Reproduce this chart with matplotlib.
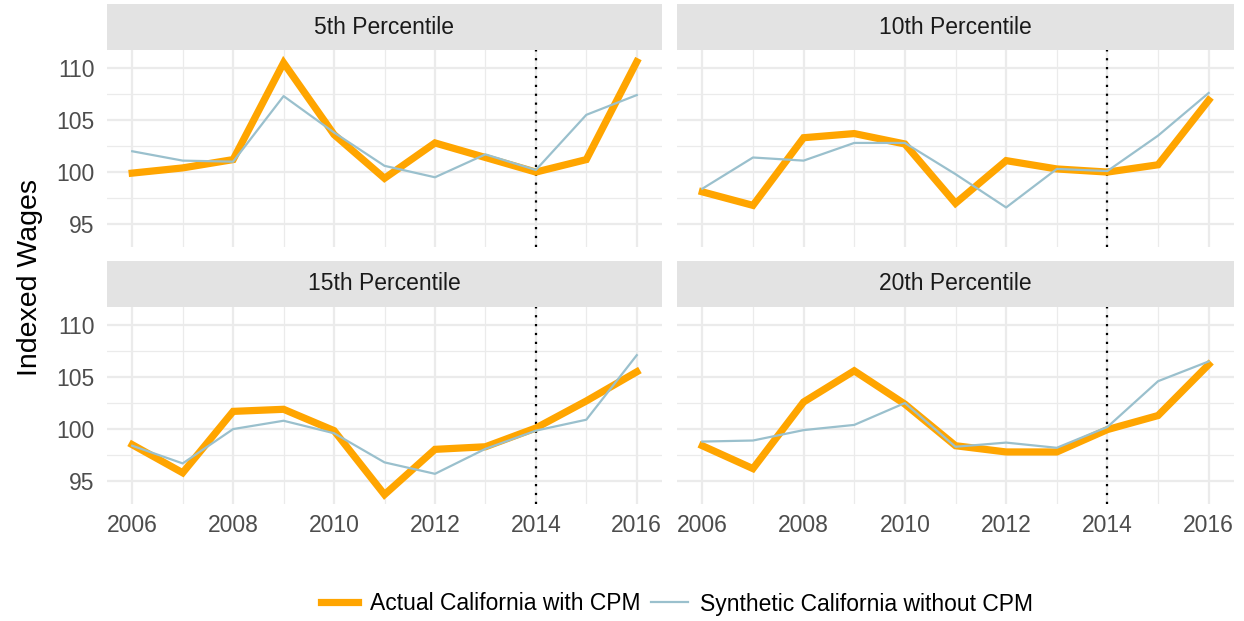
import numpy as np
import matplotlib
matplotlib.use("Agg")
import matplotlib.pyplot as plt
from matplotlib.lines import Line2D

plt.rcParams['font.family'] = ['Liberation Sans', 'DejaVu Sans']

years = list(range(2006, 2017))
panels = ['5th Percentile', '10th Percentile', '15th Percentile', '20th Percentile']

actual_p5 = [99.9, 100.4, 101.2, 110.5, 103.6, 99.4, 102.8, 101.4, 100.0, 101.2, 110.6]
synth_p5 = [102.0, 101.1, 101.0, 107.3, 103.8, 100.6, 99.5, 101.7, 100.2, 105.5, 107.4]
actual_p10 = [98.1, 96.8, 103.3, 103.7, 102.7, 97.0, 101.1, 100.3, 100.0, 100.7, 106.9]
synth_p10 = [98.4, 101.4, 101.1, 102.8, 102.8, 99.8, 96.6, 100.3, 100.1, 103.5, 107.6]
actual_p15 = [98.5, 95.8, 101.7, 101.9, 99.85, 93.7, 98.05, 98.3, 100.1, 102.7, 105.5]
synth_p15 = [98.4, 96.7, 100.0, 100.8, 99.6, 96.8, 95.7, 98.1, 99.85, 100.9, 107.1]
actual_p20 = [98.4, 96.2, 102.6, 105.6, 102.4, 98.4, 97.8, 97.8, 99.95, 101.3, 106.2]
synth_p20 = [98.8, 98.9, 99.9, 100.4, 102.5, 98.3, 98.7, 98.2, 100.2, 104.6, 106.5]

actual = [actual_p5, actual_p10, actual_p15, actual_p20]
synth = [synth_p5, synth_p10, synth_p15, synth_p20]
treat_year = 2014

ORANGE = '#FFA500'
BLUE = '#9AC0CD'
GRID = '#EBEBEB'
STRIP = '#E3E3E3'
TICK = '#4D4D4D'
FS = 16.5

W, H = 1244, 621
fig = plt.figure(figsize=(W / 100, H / 100), dpi=100)


def box(x0, y0, x1, y1):
    # pixel box (top-left origin) -> figure fraction rect
    return [x0 / W, 1 - y1 / H, (x1 - x0) / W, (y1 - y0) / H]


cols = [(107, 662), (677, 1234)]
rows = [(4, 50, 247), (261, 307, 504)]

for i, name in enumerate(panels):
    r, c = divmod(i, 2)
    x0, x1 = cols[c]
    s0, p0, p1 = rows[r]

    sax = fig.add_axes(box(x0, s0, x1, p0))
    sax.set_facecolor(STRIP)
    sax.set_xticks([])
    sax.set_yticks([])
    for sp in sax.spines.values():
        sp.set_visible(False)
    sax.text(0.5, 0.5, name, ha='center', va='center', fontsize=FS,
             color='#1A1A1A', transform=sax.transAxes)

    ax = fig.add_axes(box(x0, p0, x1, p1))
    ax.set_xlim(2005.5, 2016.5)
    ax.set_ylim(92.8, 111.73)
    ax.set_xticks(range(2006, 2017, 2))
    ax.set_xticks(range(2007, 2017, 2), minor=True)
    ax.set_yticks([95, 100, 105, 110])
    ax.set_yticks([97.5, 102.5, 107.5], minor=True)
    ax.grid(True, which='major', color=GRID, lw=1.6)
    ax.grid(True, which='minor', color=GRID, lw=0.9)
    ax.set_axisbelow(True)
    for sp in ax.spines.values():
        sp.set_visible(False)
    ax.tick_params(which='both', length=0, labelsize=FS, labelcolor=TICK)
    ax.tick_params(axis='y', pad=9)
    ax.tick_params(axis='x', pad=7)
    if r == 0:
        ax.set_xticklabels([])
    if c == 1:
        ax.set_yticklabels([])

    ax.axvline(treat_year, color='black', ls=(0, (1, 3)), lw=1.6, zorder=1)
    ax.plot(years, actual[i], color=ORANGE, lw=5.2, solid_joinstyle='miter', zorder=2)
    ax.plot(years, synth[i], color=BLUE, lw=1.6, zorder=3)

fig.text(30 / W, 1 - 277 / H, 'Indexed Wages', rotation=90, ha='center', va='center',
         fontsize=20.5, color='black')

handles = [Line2D([], [], color=ORANGE, lw=5.2),
           Line2D([], [], color=BLUE, lw=1.6)]
fig.legend(handles, ['Actual California with CPM', 'Synthetic California without CPM'],
           loc='center', bbox_to_anchor=(677 / W, 1 - 604 / H), ncol=2, frameon=False,
           fontsize=FS, handlelength=1.6, columnspacing=0.5, handletextpad=0.5)

fig.savefig('out.png', dpi=100)
